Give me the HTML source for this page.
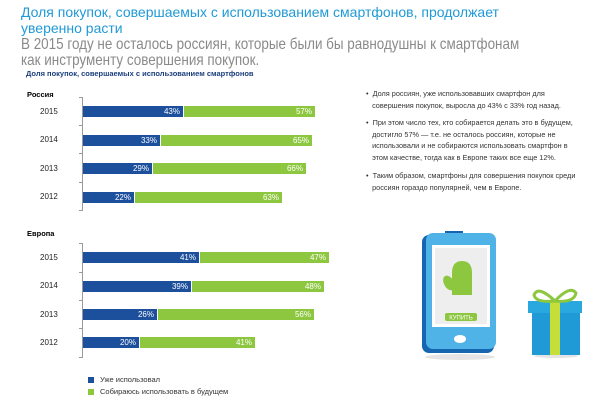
<!DOCTYPE html>
<html><head><meta charset="utf-8"><style>
body{margin:0;width:600px;height:400px;background:#fff;font-family:"Liberation Sans",sans-serif;position:relative;overflow:hidden}
.a{position:absolute;white-space:nowrap}
.t1{left:21px;color:#1f9ad6;font-size:14px;line-height:16px}
.t2{left:21px;color:#8a8a8a;font-size:14px;line-height:16px;transform:scaleX(0.84);transform-origin:0 0}
.b{position:absolute;height:11px;color:#fff;font-size:8px;line-height:11px;text-align:right;box-sizing:border-box;padding-right:3px}
.bl{background:#1c4f9c}.gr{background:#8dc63f}
.yr{position:absolute;left:40px;font-size:8px;color:#222}
.ax{position:absolute;left:82px;width:1px;background:#999}
.tk{position:absolute;left:79px;width:4px;height:1px;background:#999}
.p{position:absolute;left:366px;font-size:7.3px;color:#333;line-height:11.5px}
</style></head><body>
<div class="a t1" style="top:4px">Доля покупок, совершаемых с использованием смартфонов, продолжает</div>
<div class="a t1" style="top:20px">уверенно расти</div>
<div class="a t2" style="top:37px;font-size:16px">В 2015 году не осталось россиян, которые были бы равнодушны к смартфонам</div>
<div class="a t2" style="top:53px;font-size:16px">как инструменту совершения покупок.</div>
<div class="a" style="left:26px;top:69px;font-size:7.5px;font-weight:bold;color:#1c3f7c">Доля покупок, совершаемых с использованием смартфонов</div>

<div class="a" style="left:27px;top:90px;font-size:7.5px;font-weight:bold">Россия</div>
<div class="ax" style="top:97px;height:113px"></div>
<div class="tk" style="top:97px"></div><div class="tk" style="top:125px"></div><div class="tk" style="top:153px"></div><div class="tk" style="top:182px"></div><div class="tk" style="top:210px"></div>
<div class="yr" style="top:107px">2015</div><div class="b bl" style="left:83px;top:106px;width:100px">43%</div><div class="b gr" style="left:184px;top:106px;width:131px">57%</div>
<div class="yr" style="top:135px">2014</div><div class="b bl" style="left:83px;top:135px;width:77px">33%</div><div class="b gr" style="left:161px;top:135px;width:151px">65%</div>
<div class="yr" style="top:164px">2013</div><div class="b bl" style="left:83px;top:163px;width:69px">29%</div><div class="b gr" style="left:153px;top:163px;width:153px">66%</div>
<div class="yr" style="top:192px">2012</div><div class="b bl" style="left:83px;top:192px;width:51px">22%</div><div class="b gr" style="left:135px;top:192px;width:147px">63%</div>

<div class="a" style="left:27px;top:229px;font-size:7.5px;font-weight:bold">Европа</div>
<div class="ax" style="top:243px;height:114px"></div>
<div class="tk" style="top:243px"></div><div class="tk" style="top:272px"></div><div class="tk" style="top:300px"></div><div class="tk" style="top:328px"></div><div class="tk" style="top:357px"></div>
<div class="yr" style="top:253px">2015</div><div class="b bl" style="left:83px;top:252px;width:116px">41%</div><div class="b gr" style="left:200px;top:252px;width:129px">47%</div>
<div class="yr" style="top:281px">2014</div><div class="b bl" style="left:83px;top:281px;width:108px">39%</div><div class="b gr" style="left:192px;top:281px;width:132px">48%</div>
<div class="yr" style="top:310px">2013</div><div class="b bl" style="left:83px;top:309px;width:74px">26%</div><div class="b gr" style="left:158px;top:309px;width:156px">56%</div>
<div class="yr" style="top:338px">2012</div><div class="b bl" style="left:83px;top:337px;width:56px">20%</div><div class="b gr" style="left:140px;top:337px;width:115px">41%</div>

<div class="a" style="left:88px;top:377px;width:6px;height:6px;background:#1c4f9c"></div>
<div class="a" style="left:100px;top:375px;font-size:7.5px;color:#333">Уже использовал</div>
<div class="a" style="left:88px;top:389px;width:6px;height:6px;background:#8dc63f"></div>
<div class="a" style="left:100px;top:387px;font-size:7.5px;color:#333">Собираюсь использовать в будущем</div>

<div class="p" style="top:88px">•&nbsp; Доля россиян, уже использовавших смартфон для<br>&nbsp;&nbsp;&nbsp;совершения покупок, выросла до 43% с 33% год назад.</div>
<div class="p" style="top:117px">•&nbsp; При этом число тех, кто собирается делать это в будущем,<br>&nbsp;&nbsp;&nbsp;достигло 57% — т.е. не осталось россиян, которые не<br>&nbsp;&nbsp;&nbsp;использовали и не собираются использовать смартфон в<br>&nbsp;&nbsp;&nbsp;этом качестве, тогда как в Европе таких все еще 12%.</div>
<div class="p" style="top:170px">•&nbsp; Таким образом, смартфоны для совершения покупок среди<br>&nbsp;&nbsp;&nbsp;россиян гораздо популярней, чем в Европе.</div>

<svg class="a" style="left:410px;top:225px" width="180" height="140" viewBox="0 0 180 140">
<ellipse cx="50" cy="132" rx="35" ry="3" fill="#e4e4e4"/>
<rect x="12" y="10" width="72" height="118" rx="7" fill="#1565b0"/>
<rect x="16" y="8" width="70" height="116" rx="7" fill="#4fb3e8"/>
<rect x="22" y="20" width="58" height="82" fill="#fff"/>
<rect x="25" y="23" width="52" height="76" fill="#eee"/>
<rect x="35" y="6" width="18" height="2" fill="#1565b0"/>
<path d="M42 70 L42 48 Q42 36 52 36 Q62 36 62 48 L62 70 Z" fill="#8dc63f"/>
<ellipse cx="39" cy="58" rx="5" ry="8" fill="#8dc63f" transform="rotate(-30 39 58)"/>
<rect x="35" y="88" width="32" height="8" rx="2" fill="#8dc63f"/>
<text x="51" y="94.5" font-size="6" fill="#fff" text-anchor="middle" font-family="Liberation Sans">КУПИТЬ</text>
<ellipse cx="50" cy="114" rx="6" ry="4" fill="#fff"/>
<ellipse cx="146" cy="131" rx="22" ry="2" fill="#e4e4e4"/>
<rect x="122" y="86" width="48" height="44" fill="#1f9ad6"/>
<rect x="118" y="76" width="54" height="12" fill="#29a8e0"/>
<rect x="140" y="76" width="10" height="54" fill="#c6de3a"/>
<path d="M145 76 Q128 60 124 70 Q126 78 145 76 Q160 60 166 68 Q164 78 145 76" fill="none" stroke="#8dc63f" stroke-width="3"/>
</svg>
</body></html>
